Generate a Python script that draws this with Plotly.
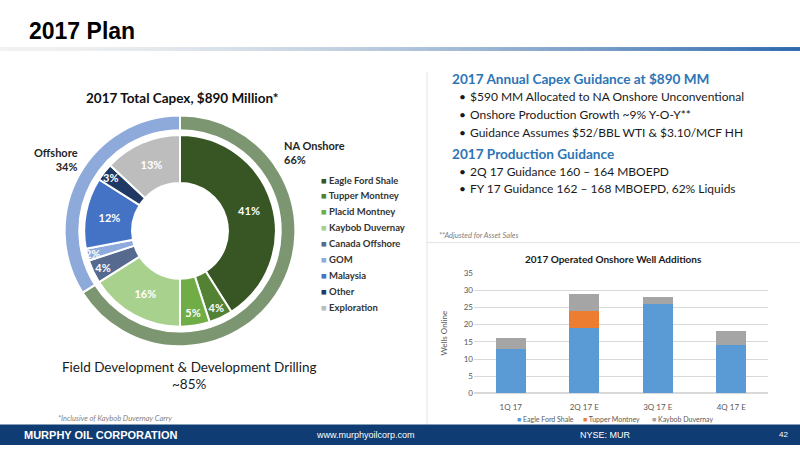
import plotly.graph_objects as go

# ---------------- data ----------------
capex_segments = ["Eagle Ford Shale", "Tupper Montney", "Placid Montney", "Kaybob Duvernay",
                  "Canada Offshore", "GOM", "Malaysia", "Other", "Exploration"]
capex_pct = [41, 4, 5, 16, 4, 2, 12, 3, 13]
capex_colors = ["#375623", "#548235", "#70AD47", "#A9D18E",
                "#56698F", "#8FAADC", "#4472C4", "#203864", "#BDBDBD"]

region_labels = ["NA Onshore", "Offshore"]
region_pct = [66, 34]
region_colors = ["#7B9670", "#8EAADB"]

quarters = ["1Q 17", "2Q 17 E", "3Q 17 E", "4Q 17 E"]
eagle_ford_wells = [13, 19, 26, 14]
tupper_wells = [0, 5, 0, 0]
kaybob_wells = [3, 5, 2, 4]
well_series = ["Eagle Ford Shale", "Tupper Montney", "Kaybob Duvernay"]
well_colors = ["#5B9BD5", "#ED7D31", "#A5A5A5"]

W, H = 800, 450
def px(x):
    return x / W
def py(y):
    return 1 - y / H

FONT = "Lato"

fig = go.Figure()

# outer ring
cx, cy = 180, 231
R_out = 118
fig.add_trace(go.Pie(
    labels=region_labels, values=region_pct, sort=False, direction="clockwise",
    marker=dict(colors=region_colors, line=dict(color="white", width=2)),
    hole=103 / 118, textinfo="none", hoverinfo="label+percent",
    domain=dict(x=[px(cx - R_out), px(cx + R_out)], y=[py(cy + R_out), py(cy - R_out)]),
    showlegend=False,
))
# inner donut
R_in = 98
fig.add_trace(go.Pie(
    labels=capex_segments, values=capex_pct, sort=False, direction="clockwise",
    marker=dict(colors=capex_colors, line=dict(color="white", width=2)),
    hole=0.5, texttemplate="%{value}%", textposition="inside",
    insidetextorientation="horizontal",
    textfont=dict(family=FONT, size=11, color="white", weight="bold"),
    domain=dict(x=[px(cx - R_in), px(cx + R_in)], y=[py(cy + R_in), py(cy - R_in)]),
    showlegend=False,
))

# stacked bars
for name, vals, col in zip(well_series, [eagle_ford_wells, tupper_wells, kaybob_wells], well_colors):
    fig.add_trace(go.Bar(x=quarters, y=vals, name=name, marker=dict(color=col, line=dict(width=0)),
                         showlegend=False))

shapes = []
# header gradient line
c0 = (242, 242, 242)
c1 = (47, 106, 174)
nseg = 80
for i in range(nseg):
    t = i / (nseg - 1)
    t2 = t ** 1.6
    col = tuple(int(c0[k] + (c1[k] - c0[k]) * t2) for k in range(3))
    shapes.append(dict(type="rect", xref="paper", yref="paper",
                       x0=px(i * W / nseg), x1=px((i + 1) * W / nseg + 0.5),
                       y0=py(47), y1=py(43), line=dict(width=0),
                       fillcolor="rgb(%d,%d,%d)" % col, layer="below"))
# divider lines
shapes.append(dict(type="line", xref="paper", yref="paper", x0=px(427), x1=px(427), y0=py(68), y1=py(429),
                   line=dict(color="#E3E3E3", width=1)))
shapes.append(dict(type="line", xref="paper", yref="paper", x0=px(427), x1=px(800), y0=py(243), y1=py(243),
                   line=dict(color="#E3E3E3", width=1)))
# footer band
shapes.append(dict(type="rect", xref="paper", yref="paper", x0=0, x1=1, y0=0, y1=py(429),
                   line=dict(width=0), fillcolor="#0F3C72"))

ann = []
def text(x, y, s, size, color="#000000", bold=False, italic=False, xanchor="left", family=FONT, **kw):
    ann.append(dict(x=px(x), y=py(y), xref="paper", yref="paper", text=s, showarrow=False,
                    xanchor=xanchor, yanchor="middle",
                    font=dict(family=family, size=size, color=color,
                              weight="bold" if bold else "normal",
                              style="italic" if italic else "normal"), **kw))

text(27, 27, "2017 Plan", 23, bold=True, family="Liberation Sans")
text(182, 95, "2017 Total Capex, $890 Million*", 13.5, color="#111111", bold=True, xanchor="center")
text(80, 158, "Offshore<br>34%", 11, color="#262626", bold=True, xanchor="right", align="right")
text(282, 151, "NA Onshore<br>66%", 11, color="#262626", bold=True, xanchor="left", align="left")

# pie legend
for i, (lab, col) in enumerate(zip(capex_segments, capex_colors)):
    yy = 179 + i * 16.25
    text(319, yy, "<span style='color:%s'>■</span> %s" % (col, lab), 9.5, color="#333333", bold=True)

text(189, 370, "Field Development & Development Drilling", 13.5, color="#1a1a1a", xanchor="center")
text(189, 388, "~85%", 13.5, color="#1a1a1a", xanchor="center")
text(115, 423, "*Inclusive of Kaybob Duvernay Carry", 7.5, color="#7F7F7F", italic=True, xanchor="center")

# right text block
blue = "#2E75B6"
text(450, 76, "2017 Annual Capex Guidance at $890 MM", 13.6, color=blue, bold=True)
bul1 = ["$590 MM Allocated to NA Onshore Unconventional",
        "Onshore Production Growth ~9% Y-O-Y**",
        "Guidance Assumes $52/BBL WTI & $3.10/MCF HH"]
for i, b in enumerate(bul1):
    yy = 94 + i * 18
    text(457, yy, "•", 12, color="#1a1a1a")
    text(468, yy, b, 12, color="#1a1a1a")
text(450, 152, "2017 Production Guidance", 13.6, color=blue, bold=True)
bul2 = ["2Q 17 Guidance 160 – 164 MBOEPD", "FY 17 Guidance 162 – 168 MBOEPD, 62% Liquids"]
for i, b in enumerate(bul2):
    yy = 170 + i * 17.5
    text(457, yy, "•", 12, color="#1a1a1a")
    text(468, yy, b, 12, color="#1a1a1a")
text(437, 236, "**Adjusted for Asset Sales", 7.5, color="#7F7F7F", italic=True)

# bar chart title + legend
text(613, 260, "2017 Operated Onshore Well Additions", 10, color="#1a1a1a", bold=True, xanchor="center")
legx = [515, 581, 650]
for lx, name, col in zip(legx, well_series, well_colors):
    text(lx, 423, "<span style='color:%s'>■</span> %s" % (col, name), 7, color="#595959")

# footer
text(22, 440, "MURPHY OIL CORPORATION", 11, color="white", bold=True, family="Liberation Sans")
text(365, 440, "www.murphyoilcorp.com", 9, color="white", xanchor="center", family="Liberation Sans")
text(605, 440, "NYSE: MUR", 9, color="white", xanchor="center", family="Liberation Sans")
text(790, 439, "42", 8, color="white", xanchor="right", family="Liberation Sans")

fig.update_layout(
    width=W, height=H, margin=dict(l=0, r=0, t=0, b=0),
    paper_bgcolor="white", plot_bgcolor="white",
    barmode="stack", bargap=0.59,
    shapes=shapes, annotations=ann,
    font=dict(family=FONT),
    xaxis=dict(domain=[px(474), px(768)], showgrid=False, showline=False, ticks="",
               ticklabelstandoff=8,
               tickfont=dict(size=8, color="#595959", family=FONT)),
    yaxis=dict(domain=[py(397.3), py(274)], range=[0, 35], dtick=5, showgrid=True,
               gridcolor="#D9D9D9", gridwidth=1, zeroline=True, zerolinecolor="#D9D9D9",
               tickfont=dict(size=8, color="#595959", family=FONT),
               title=dict(text="Wells Online", font=dict(size=8, color="#595959", family=FONT), standoff=14)),
    uniformtext=dict(minsize=10, mode="show"),
)

fig.write_html("out.html", config={"displayModeBar": False},
               post_script="document.body.style.margin='0';document.body.style.overflow='hidden';")
